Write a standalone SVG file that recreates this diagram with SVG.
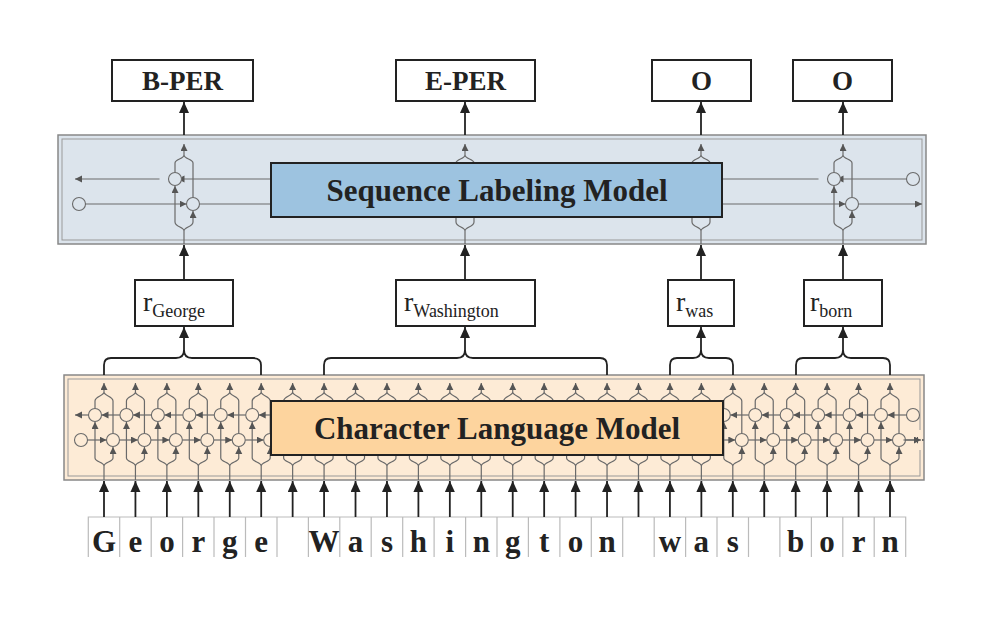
<svg xmlns="http://www.w3.org/2000/svg" xmlns:xlink="http://www.w3.org/1999/xlink" width="989" height="617" viewBox="0 0 989 617">
<style>
.g{stroke:#6a6a6a;stroke-width:1.2;fill:none}
.gc{stroke:#6a6a6a;stroke-width:1.1}
.k{stroke:#222;stroke-width:1.8;fill:none}
.box{fill:#fff;stroke:#222;stroke-width:2}
.t{font-family:"Liberation Serif",serif;font-weight:bold;fill:#222}
.r{font-family:"Liberation Serif",serif;fill:#222}
.cell{fill:#fff;stroke:#bbb;stroke-width:1.2}
</style>
<defs>
<marker id="ga" markerUnits="userSpaceOnUse" markerWidth="8" markerHeight="8" refX="7" refY="3.5" orient="auto"><path d="M0,0L7,3.5L0,7z" fill="#555"/></marker>
<marker id="ka" markerUnits="userSpaceOnUse" markerWidth="12" markerHeight="12" refX="11" refY="5" orient="auto"><path d="M0,0L11,5L0,10z" fill="#222"/></marker>
<g id="lmcol">
<path class="g" d="M0,392V383" marker-end="url(#ga)"/>
<path class="g" d="M0,392C0,396 -9,396 -9,401V408.5M0,392C0,396 9,396 9,401V433.5"/>
<path class="g" d="M0,480V466C0,462 -9,462 -9,458M0,466C0,462 9,462 9,458"/>
<path class="g" d="M-9,458V422" marker-end="url(#ga)"/>
<path class="g" d="M9,458V447" marker-end="url(#ga)"/>
<path class="g" d="M15.94,415H-2.5" marker-end="url(#ga)"/>
<path class="g" d="M15.5,440H33.94" marker-end="url(#ga)"/>
<circle class="gc" cx="-9" cy="415" r="6.5" fill="#fdebd6"/>
<circle class="gc" cx="9" cy="440" r="6.5" fill="#fdebd6"/>
</g>
<g id="slcol">
<path class="g" d="M0,155V144" marker-end="url(#ga)"/>
<path class="g" d="M0,155C0,159 -9,159 -9,163V172.5M0,155C0,159 9,159 9,163V197.5"/>
<path class="g" d="M0,244V231C0,227 -9,227 -9,222M0,231C0,227 9,227 9,222"/>
<path class="g" d="M-9,222V186" marker-end="url(#ga)"/>
<path class="g" d="M9,222V211" marker-end="url(#ga)"/>
<circle class="gc" cx="-9" cy="179" r="6.5" fill="#dce4ec"/>
<circle class="gc" cx="9" cy="204" r="6.5" fill="#dce4ec"/>
</g>
</defs>
<rect width="989" height="617" fill="#fff"/>

<g id="outputs">
<g id="out-bper"><rect class="box" x="112" y="60" width="141" height="41"/><text class="t" x="182.5" y="90" font-size="27" text-anchor="middle">B-PER</text></g>
<g id="out-eper"><rect class="box" x="396" y="60" width="139" height="41"/><text class="t" x="465.5" y="90" font-size="27" text-anchor="middle">E-PER</text></g>
<g id="out-o1"><rect class="box" x="652" y="60" width="99" height="41"/><text class="t" x="701.5" y="90" font-size="27" text-anchor="middle">O</text></g>
<g id="out-o2"><rect class="box" x="793" y="60" width="99" height="41"/><text class="t" x="842.5" y="90" font-size="27" text-anchor="middle">O</text></g>
</g>

<g id="sequence-labeling-model">
<rect x="58" y="135" width="868" height="109" fill="#dce4ec" stroke="#888" stroke-width="1.5"/>
<rect x="62" y="139" width="860" height="101" fill="none" stroke="#999" stroke-width="1"/>
<path class="g" d="M159.5,179H75" marker-end="url(#ga)"/>
<path class="g" d="M440.5,179H177.5" marker-end="url(#ga)"/>
<path class="g" d="M676.5,179H458.5" marker-end="url(#ga)"/>
<path class="g" d="M818.5,179H694.5" marker-end="url(#ga)"/>
<path class="g" d="M906.5,179H836.5" marker-end="url(#ga)"/>
<circle class="gc" cx="913" cy="179" r="6.5" fill="#dce4ec"/>
<circle class="gc" cx="79" cy="204" r="6.5" fill="#dce4ec"/>
<path class="g" d="M85.5,204H186.5" marker-end="url(#ga)"/>
<path class="g" d="M199.5,204H467.5" marker-end="url(#ga)"/>
<path class="g" d="M480.5,204H703.5" marker-end="url(#ga)"/>
<path class="g" d="M716.5,204H845.5" marker-end="url(#ga)"/>
<path class="g" d="M858.5,204H922" marker-end="url(#ga)"/>
<use xlink:href="#slcol" href="#slcol" x="184"/>
<use xlink:href="#slcol" href="#slcol" x="465"/>
<use xlink:href="#slcol" href="#slcol" x="701"/>
<use xlink:href="#slcol" href="#slcol" x="843"/>
<rect x="271" y="163" width="451" height="54" fill="#9dc3e0" stroke="#222" stroke-width="2"/>
<text class="t" x="497" y="201" font-size="31" text-anchor="middle">Sequence Labeling Model</text>
</g>

<g id="reps">
<g id="r-george"><rect class="box" x="135" y="280" width="98" height="46"/><text class="r" x="143" y="311" font-size="28">r<tspan font-size="18" dy="6">George</tspan></text></g>
<g id="r-washington"><rect class="box" x="396" y="280" width="139" height="46"/><text class="r" x="404" y="311" font-size="28">r<tspan font-size="18" dy="6">Washington</tspan></text></g>
<g id="r-was"><rect class="box" x="668" y="280" width="66" height="46"/><text class="r" x="676" y="311" font-size="28">r<tspan font-size="18" dy="6">was</tspan></text></g>
<g id="r-born"><rect class="box" x="804" y="280" width="78" height="46"/><text class="r" x="810" y="311" font-size="28">r<tspan font-size="18" dy="6">born</tspan></text></g>
</g>

<g id="character-language-model">
<rect x="64" y="375" width="860" height="105" fill="#fdebd6" stroke="#888" stroke-width="1.5"/>
<rect x="68" y="379" width="852" height="97" fill="none" stroke="#999" stroke-width="1"/>
<path class="g" d="M88.5,415H75" marker-end="url(#ga)"/>
<circle class="gc" cx="81" cy="440" r="6.5" fill="#fdebd6"/>
<path class="g" d="M87.5,440H106.5" marker-end="url(#ga)"/>
<use href="#lmcol" xlink:href="#lmcol" x="104"/><use href="#lmcol" xlink:href="#lmcol" x="135.44"/><use href="#lmcol" xlink:href="#lmcol" x="166.88"/><use href="#lmcol" xlink:href="#lmcol" x="198.32"/><use href="#lmcol" xlink:href="#lmcol" x="229.76"/><use href="#lmcol" xlink:href="#lmcol" x="261.2"/><use href="#lmcol" xlink:href="#lmcol" x="292.64"/><use href="#lmcol" xlink:href="#lmcol" x="324.08"/><use href="#lmcol" xlink:href="#lmcol" x="355.52"/><use href="#lmcol" xlink:href="#lmcol" x="386.96"/><use href="#lmcol" xlink:href="#lmcol" x="418.4"/><use href="#lmcol" xlink:href="#lmcol" x="449.84"/><use href="#lmcol" xlink:href="#lmcol" x="481.28"/><use href="#lmcol" xlink:href="#lmcol" x="512.72"/><use href="#lmcol" xlink:href="#lmcol" x="544.16"/><use href="#lmcol" xlink:href="#lmcol" x="575.6"/><use href="#lmcol" xlink:href="#lmcol" x="607.04"/><use href="#lmcol" xlink:href="#lmcol" x="638.48"/><use href="#lmcol" xlink:href="#lmcol" x="669.92"/><use href="#lmcol" xlink:href="#lmcol" x="701.36"/><use href="#lmcol" xlink:href="#lmcol" x="732.8"/><use href="#lmcol" xlink:href="#lmcol" x="764.24"/><use href="#lmcol" xlink:href="#lmcol" x="795.68"/><use href="#lmcol" xlink:href="#lmcol" x="827.12"/><use href="#lmcol" xlink:href="#lmcol" x="858.56"/><use href="#lmcol" xlink:href="#lmcol" x="890"/>
<rect x="918" y="430" width="4" height="20" fill="#fdebd6"/>
<path class="g" d="M903.5,440H921" marker-end="url(#ga)"/>
<circle class="gc" cx="913" cy="415" r="6.5" fill="#fdebd6"/>
<rect x="271" y="401" width="452" height="54" fill="#fdd49e" stroke="#222" stroke-width="2"/>
<text class="t" x="497" y="439" font-size="31" text-anchor="middle">Character Language Model</text>
</g>

<g id="characters" class="t" font-size="31" text-anchor="middle">
<path fill="none" stroke="#bbb" stroke-width="1.2" d="M88.3,557V517H277M308.4,517H654.2M685.6,517H748.5M779.9,517H905.7V557M88.3,517V557M119.7,517V557M151.2,517V557M182.6,517V557M214,517V557M245.5,517V557M277,517V557M308.4,517V557M339.8,517V557M371.2,517V557M402.7,517V557M434.1,517V557M465.6,517V557M497,517V557M528.4,517V557M559.9,517V557M591.3,517V557M622.7,517V557M654.2,517V557M685.6,517V557M717,517V557M748.5,517V557M779.9,517V557M811.4,517V557M842.8,517V557M874.2,517V557"/>
<path fill="none" stroke="#bbb" stroke-width="1.2" d="M277,517H308.4M654.2,517H685.6M748.5,517H779.9"/>
<text x="104" y="552">G</text><text x="135.44" y="552">e</text><text x="166.88" y="552">o</text><text x="198.32" y="552">r</text><text x="229.76" y="552">g</text><text x="261.2" y="552">e</text>
<text x="324.08" y="552">W</text><text x="355.52" y="552">a</text><text x="386.96" y="552">s</text><text x="418.4" y="552">h</text><text x="449.84" y="552">i</text><text x="481.28" y="552">n</text><text x="512.72" y="552">g</text><text x="544.16" y="552">t</text><text x="575.6" y="552">o</text><text x="607.04" y="552">n</text>
<text x="669.92" y="552">w</text><text x="701.36" y="552">a</text><text x="732.8" y="552">s</text>
<text x="795.68" y="552">b</text><text x="827.12" y="552">o</text><text x="858.56" y="552">r</text><text x="890" y="552">n</text>
</g>

<g id="connectors">
<path class="k" d="M184,135V102" marker-end="url(#ka)"/>
<path class="k" d="M465,135V102" marker-end="url(#ka)"/>
<path class="k" d="M701,135V102" marker-end="url(#ka)"/>
<path class="k" d="M843,135V102" marker-end="url(#ka)"/>
<path class="k" d="M184,280V245" marker-end="url(#ka)"/>
<path class="k" d="M465,280V245" marker-end="url(#ka)"/>
<path class="k" d="M701,280V245" marker-end="url(#ka)"/>
<path class="k" d="M843,280V245" marker-end="url(#ka)"/>
<path class="k" stroke-width="1.5" d="M104,375V365Q104,358 111,358H176Q184,358 184,350Q184,358 192,358H253Q261,358 261,365V375"/>
<path class="k" stroke-width="1.5" d="M324,375V365Q324,358 331,358H457Q465,358 465,350Q465,358 473,358H600Q607,358 607,365V375"/>
<path class="k" stroke-width="1.5" d="M670,375V365Q670,358 677,358H693Q701,358 701,350Q701,358 709,358H726Q733,358 733,365V375"/>
<path class="k" stroke-width="1.5" d="M796,375V365Q796,358 803,358H835Q843,358 843,350Q843,358 851,358H883Q890,358 890,365V375"/>
<path class="k" stroke-width="1.5" d="M184,351V327" marker-end="url(#ka)"/>
<path class="k" stroke-width="1.5" d="M465,351V327" marker-end="url(#ka)"/>
<path class="k" stroke-width="1.5" d="M701,351V327" marker-end="url(#ka)"/>
<path class="k" stroke-width="1.5" d="M843,351V327" marker-end="url(#ka)"/>
<g stroke="#222" stroke-width="1.8" marker-end="url(#ka)">
<path d="M104,517V481"/><path d="M135.44,517V481"/><path d="M166.88,517V481"/><path d="M198.32,517V481"/><path d="M229.76,517V481"/><path d="M261.2,517V481"/><path d="M292.64,517V481"/><path d="M324.08,517V481"/><path d="M355.52,517V481"/><path d="M386.96,517V481"/><path d="M418.4,517V481"/><path d="M449.84,517V481"/><path d="M481.28,517V481"/><path d="M512.72,517V481"/><path d="M544.16,517V481"/><path d="M575.6,517V481"/><path d="M607.04,517V481"/><path d="M638.48,517V481"/><path d="M669.92,517V481"/><path d="M701.36,517V481"/><path d="M732.8,517V481"/><path d="M764.24,517V481"/><path d="M795.68,517V481"/><path d="M827.12,517V481"/><path d="M858.56,517V481"/><path d="M890,517V481"/>
</g>
</g>
</svg>
